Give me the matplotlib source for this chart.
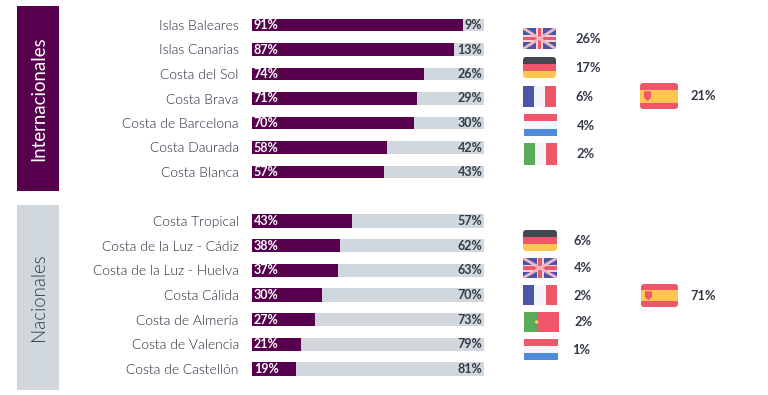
import matplotlib
matplotlib.use("Agg")
import matplotlib.pyplot as plt
from matplotlib.patches import Rectangle, FancyBboxPatch, Polygon, Circle

W, H = 768, 395
PURPLE = "#57004e"
GREY = "#d0d8de"
TEXT = "#333a47"
RED = "#f0566a"
BLUE = "#4a55a8"
WHITE = "#f3f5fa"
YELLOW = "#fcc64f"
DARK = "#414850"
LBLUE = "#4d8bdc"
GREEN = "#5aab5a"

plt.rcParams['font.family'] = ['Lato', 'DejaVu Sans']

cats_int = ["Islas Baleares", "Islas Canarias", "Costa del Sol", "Costa Brava",
            "Costa de Barcelona", "Costa Daurada", "Costa Blanca"]
vals_int = [91, 87, 74, 71, 70, 58, 57]
cats_nac = ["Costa Tropical", "Costa de la Luz - Cádiz", "Costa de la Luz - Huelva",
            "Costa Cálida", "Costa de Almería", "Costa de Valencia", "Costa de Castellón"]
vals_nac = [43, 38, 37, 30, 27, 21, 19]

flags_int = ["uk", "de", "fr", "nl", "it"]
pct_int = [26, 17, 6, 4, 2]
flags_nac = ["de", "uk", "fr", "pt", "nl"]
pct_nac = [6, 4, 2, 2, 1]
spain_int = 21
spain_nac = 71

fig = plt.figure(figsize=(W / 100, H / 100), dpi=100)
bg = fig.add_axes([0, 0, 1, 1])
bg.set_xlim(0, W)
bg.set_ylim(H, 0)
bg.axis("off")


def px_axes(x0, y0, x1, y1):
    return fig.add_axes([x0 / W, 1 - y1 / H, (x1 - x0) / W, (y1 - y0) / H])


def bars(cats, vals, top, bottom):
    ax = px_axes(252, top, 484, bottom)
    ax.patch.set_alpha(0)
    y = range(len(cats))
    rest = [100 - v for v in vals]
    ax.barh(y, vals, height=0.53, color=PURPLE)
    ax.barh(y, rest, left=vals, height=0.53, color=GREY)
    ax.set_xlim(0, 100)
    ax.set_ylim(len(cats) - 0.5, -0.5)
    ax.set_yticks(list(y), cats, fontsize=10, color="#22283a", fontweight=300)
    ax.tick_params(axis="y", length=0, pad=9.5)
    ax.set_xticks([])
    for s in ax.spines.values():
        s.set_visible(False)
    for i, (v, r) in enumerate(zip(vals, rest)):
        ax.text(0.8, i, f"{v}%", color="white", fontsize=9.0, fontweight="bold",
                va="center", ha="left")
        ax.text(99.3, i, f"{r}%", color=TEXT, fontsize=9.0, fontweight="bold",
                va="center", ha="right")


def flag(name, x, y, w=34, h=21):
    # x, y is the top left corner in pixels
    parts = []
    if name in ("de", "nl", "es"):
        cols = {"de": [DARK, RED, YELLOW], "nl": [RED, WHITE, LBLUE], "es": [RED, YELLOW, RED]}[name]
        sizes = [0.25, 0.5, 0.25] if name == "es" else [1 / 3] * 3
        yy = y
        for c, s in zip(cols, sizes):
            parts.append(bg.add_patch(Rectangle((x, yy), w, h * s, fc=c, lw=0)))
            yy += h * s
        if name == "es":
            bg.add_patch(Polygon([(x + 4, y + h * 0.32), (x + 11, y + h * 0.32), (x + 11, y + h * 0.56),
                                  (x + 7.5, y + h * 0.7), (x + 4, y + h * 0.56)], fc=RED, lw=0))
    elif name in ("fr", "it"):
        left = BLUE if name == "fr" else GREEN
        for i, c in enumerate([left, WHITE, RED]):
            bg.add_patch(Rectangle((x + i * w / 3, y), w / 3, h, fc=c, lw=0))
    elif name == "pt":
        bg.add_patch(Rectangle((x, y), w, h, fc=RED, lw=0))
        bg.add_patch(Rectangle((x, y), w * 0.36, h, fc=GREEN, lw=0))
        bg.add_patch(Circle((x + w * 0.36, y + h / 2), 1.8, fc=YELLOW, lw=0))
    elif name == "uk":
        clip = Rectangle((x, y), w, h, fc=BLUE, lw=0)
        bg.add_patch(clip)
        for a, b in [(y, y + h), (y + h, y)]:
            ln, = bg.plot([x, x + w], [a, b], color="#f2b8c2", lw=2.0, solid_capstyle="butt")
            ln.set_clip_path(clip)
        bg.add_patch(Rectangle((x + w / 2 - 3.5, y), 7, h, fc="#f6d5da", lw=0))
        bg.add_patch(Rectangle((x, y + h / 2 - 3.5), w, 7, fc="#f6d5da", lw=0))
        bg.add_patch(Rectangle((x + w / 2 - 1.7, y), 3.4, h, fc=RED, lw=0))
        bg.add_patch(Rectangle((x, y + h / 2 - 1.7), w, 3.4, fc=RED, lw=0))
    if name in ("de", "es"):
        # these two have rounded corners
        box = FancyBboxPatch((x + 3, y + 3), w - 6, h - 6, boxstyle="round,pad=3,rounding_size=3",
                             fc="none", lw=0, transform=bg.transData)
        bg.add_patch(box)
        for p in parts:
            p.set_clip_path(box)


def legend(names, pcts, boxes, text_x):
    for n, p, (x0, y0, x1, y1), tx in zip(names, pcts, boxes, text_x):
        flag(n, x0, y0, x1 - x0, y1 - y0)
        bg.text(tx, (y0 + y1) / 2 + 0.5, f"{p}%", color=TEXT, fontsize=9.3, fontweight="bold",
                ha="left", va="center")


# side panels
bg.add_patch(Rectangle((17, 6), 42, 185, fc=PURPLE, lw=0))
bg.add_patch(Rectangle((17, 205), 42, 185, fc=GREY, lw=0))
bg.text(39, 99, "Internacionales", color="white", fontsize=13.4, rotation=90,
        ha="center", va="center")
bg.text(39, 297, "Nacionales", color=TEXT, fontsize=13.4, rotation=90,
        ha="center", va="center", fontweight=300)

bars(cats_int, vals_int, 12.75, 184.25)
bars(cats_nac, vals_nac, 208.7, 381.3)

legend(flags_int, pct_int,
       [(523, 28, 556, 49), (523, 57, 556, 78), (523, 86, 556, 107),
        (524, 114, 557, 136), (524, 143, 557, 165)],
       [575, 575, 576, 576.5, 576])
legend(flags_nac, pct_nac,
       [(523, 230, 557, 251), (523, 258, 557, 278), (523, 285, 557, 305),
        (524, 312, 559, 332), (524, 339, 558, 360)],
       [573.5, 573.5, 573.5, 574, 572])

flag("es", 640, 83, w=38, h=26)
bg.text(690, 96.5, f"{spain_int}%", color=TEXT, fontsize=9.3, fontweight="bold",
        ha="left", va="center")
flag("es", 641, 284, w=37, h=23)
bg.text(690, 296.5, f"{spain_nac}%", color=TEXT, fontsize=9.3, fontweight="bold",
        ha="left", va="center")

bg.set_xlim(0, W)
bg.set_ylim(H, 0)
fig.savefig("out.png", dpi=100)
